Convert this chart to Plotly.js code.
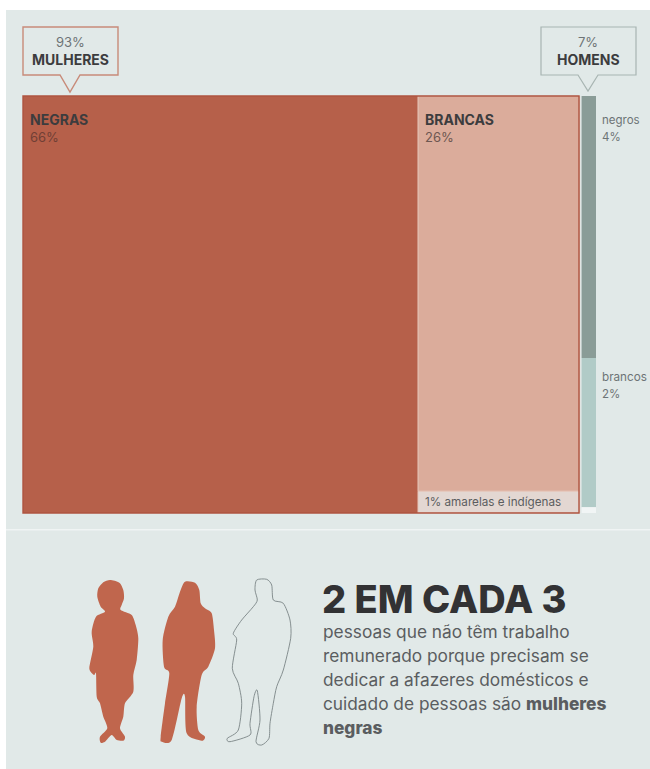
<!DOCTYPE html>
<html><head><meta charset="utf-8">
<script src="https://cdn.plot.ly/plotly-3.0.1.min.js"></script>
<style>html,body{margin:0;padding:0;background:#fff}#c{width:650px;height:769px}</style>
</head><body><div id="c"></div>
<script>
// Data (share of total / share of each column)
var womenLabels = ['NEGRAS', 'BRANCAS'];
var womenShares = ['66%', '26%'];
var minorLabel = '1% amarelas e indígenas';
var menLabels = ['negros', 'brancos'];
var menShares = ['4%', '2%'];
var calloutWomen = ['93%', 'MULHERES'];
var calloutMen = ['7%', 'HOMENS'];
var columnWidths = [66, 27, 2.5];
var columnGap = 0.33;
var brancasStack = [94.8, 5.2];
var menStack = [62.8, 35.8, 1.4];
var headline = '2 EM CADA 3';
var bodyLines = ['pessoas que não têm trabalho', 'remunerado porque precisam se', 'dedicar a afazeres domésticos e', 'cuidado de pessoas são <span style="font-weight:800">mulheres</span>', '<span style="font-weight:800">negras</span>'];

var W = 650, H = 769, FONT = 'Inter, "Liberation Sans", sans-serif';
var DARK = '#3c3c3e', GREY = '#6d7476';

function bar(x, w, base, h, color, line) {
  return {type: 'bar', x: [x + w / 2], y: [h], base: [base], width: [w], marker: {color: color, line: line || {width: 0}},
    hoverinfo: 'skip', showlegend: false, xaxis: 'x', yaxis: 'y'};
}
var xBrancas = columnWidths[0], xMen = columnWidths[0] + columnWidths[1] + columnGap;
var traces = [
  bar(0, columnWidths[0], 0, 100, '#b6604a'),
  bar(xBrancas, columnWidths[1], 100 - brancasStack[0], brancasStack[0], '#dbac9b', {width: 1, color: '#e6c7bb'}),
  bar(xBrancas, columnWidths[1], 0, brancasStack[1], '#e3d7d2', {width: 1, color: '#e6c7bb'}),
  bar(xMen, columnWidths[2], 100 - menStack[0], menStack[0], '#8a9c97'),
  bar(xMen, columnWidths[2], menStack[2], menStack[1], '#b1cbc7'),
  bar(xMen, columnWidths[2], 0, menStack[2], '#f1f5f5')
];

// smooth closed outline passing through points given in zoom-crop units
function outline(pts) {
  var p = pts.map(function (q) { return [70 + q[0] / 3, 560 + q[1] / 3]; });
  var n = p.length, f = function (v) { return v.toFixed(1); };
  var d = 'M' + f(p[0][0]) + ',' + f(p[0][1]);
  for (var i = 0; i < n; i++) {
    var a = p[(i - 1 + n) % n], b = p[i], c = p[(i + 1) % n], e = p[(i + 2) % n];
    d += ' C' + f(b[0] + (c[0] - a[0]) / 8) + ',' + f(b[1] + (c[1] - a[1]) / 8) + ' ' +
      f(c[0] - (e[0] - b[0]) / 8) + ',' + f(c[1] - (e[1] - b[1]) / 8) + ' ' + f(c[0]) + ',' + f(c[1]);
  }
  return d + ' Z';
}
var fig1 = [[120,60],[148,68],[160,90],[162,115],[155,135],[152,150],[185,165],[197,195],[205,235],[200,300],[190,345],[190,395],[165,430],[160,470],[150,505],[165,530],[160,542],[140,540],[125,525],[105,545],[92,548],[90,530],[112,505],[100,470],[90,430],[80,410],[78,340],[72,345],[58,325],[70,260],[65,215],[78,170],[105,155],[92,140],[82,110],[85,85],[100,67]];
var fig2 = [[345,65],[375,68],[388,90],[392,130],[405,145],[425,160],[432,210],[435,265],[415,320],[395,345],[380,440],[385,510],[405,530],[395,542],[350,520],[345,410],[335,415],[305,540],[275,545],[272,530],[285,430],[298,340],[282,320],[278,240],[295,170],[315,140],[330,95]];
var fig3 = [[560,60],[590,58],[605,75],[610,120],[640,130],[660,180],[662,235],[640,330],[620,380],[610,430],[600,490],[597,535],[575,555],[558,545],[570,480],[562,392],[552,410],[540,490],[540,525],[480,545],[472,535],[505,510],[515,430],[505,370],[487,325],[500,240],[490,220],[515,180],[550,140],[562,120],[555,90]];

function px(o) { o.xref = 'x2'; o.yref = 'y2'; return o; }
var shapes = [
  {type: 'rect', xref: 'paper', yref: 'paper', x0: 6 / W, x1: 1, y0: 0, y1: 1 - 10 / H, fillcolor: '#e1e9e8', line: {width: 0}, layer: 'below'},
  {type: 'rect', xref: 'paper', yref: 'paper', x0: 6 / W, x1: 1, y0: 1 - 530.5 / H, y1: 1 - 529 / H, fillcolor: '#f0f4f4', line: {width: 0}, layer: 'below'},
  px({type: 'path', path: 'M23,27 H118 V75 H80 L70,92 L60,75 H23 Z', fillcolor: '#e1e9e8', line: {color: '#c88b79', width: 1.4}}),
  px({type: 'path', path: 'M541,27 H636 V75 H598 L588,91 L578,75 H541 Z', fillcolor: '#e1e9e8', line: {color: '#a8b5b2', width: 1.2}}),
  px({type: 'rect', x0: 23, x1: 579, y0: 96, y1: 513, fillcolor: 'rgba(0,0,0,0)', line: {color: '#ae5440', width: 1.4}}),
  px({type: 'path', path: outline(fig1), fillcolor: '#c0664d', line: {width: 0}}),
  px({type: 'path', path: outline(fig2), fillcolor: '#c0664d', line: {width: 0}}),
  px({type: 'path', path: outline(fig3), fillcolor: 'rgba(0,0,0,0)', line: {color: '#7a8486', width: 0.9}})
];

function t(x, y, text, size, color, weight, anchor) {
  return {xref: 'x2', yref: 'y2', x: x, y: y, text: text, showarrow: false, xanchor: anchor || 'left', yanchor: 'middle',
    align: anchor || 'left', font: {family: FONT, size: size, color: color, weight: weight || 400}};
}
var ann = [
  t(70, 42, calloutWomen[0], 13, GREY, 400, 'center'),
  t(70, 59, '<b>' + calloutWomen[1] + '</b>', 14, DARK, 700, 'center'),
  t(588, 42, calloutMen[0], 13, GREY, 400, 'center'),
  t(588, 59, '<b>' + calloutMen[1] + '</b>', 14, DARK, 700, 'center'),
  t(28, 119, '<b>' + womenLabels[0] + '</b>', 14, DARK),
  t(28, 137, womenShares[0], 13, '#703f35'),
  t(423, 119, '<b>' + womenLabels[1] + '</b>', 14, DARK),
  t(423, 137, womenShares[1], 13, '#6d5751'),
  t(423, 502, minorLabel, 11.7, '#5b5d5f'),
  t(600, 120, menLabels[0], 11.5, GREY),
  t(600, 137, menShares[0], 11.5, GREY),
  t(600, 377, menLabels[1], 11.7, GREY),
  t(600, 394, menShares[1], 11.5, GREY),
  t(320, 599, headline, 38, '#323234', 800)
];
bodyLines.forEach(function (l, i) { ann.push(t(321, 631 + i * 24.2, l, 17.3, '#5a5d60')); });

Plotly.newPlot('c', traces, {
  width: W, height: H, margin: {l: 0, r: 0, t: 0, b: 0}, paper_bgcolor: '#ffffff', plot_bgcolor: 'rgba(0,0,0,0)',
  showlegend: false, barmode: 'overlay',
  xaxis: {domain: [23 / W, 596 / W], range: [0, 573 / 5.985], visible: false, fixedrange: true},
  yaxis: {domain: [(H - 513) / H, (H - 96) / H], range: [0, 100], visible: false, fixedrange: true},
  xaxis2: {domain: [0, 1], range: [0, W], visible: false, anchor: 'y2', fixedrange: true},
  yaxis2: {domain: [0, 1], range: [H, 0], visible: false, anchor: 'x2', fixedrange: true},
  shapes: shapes, annotations: ann
}, {displayModeBar: false, staticPlot: true});
</script></body></html>
